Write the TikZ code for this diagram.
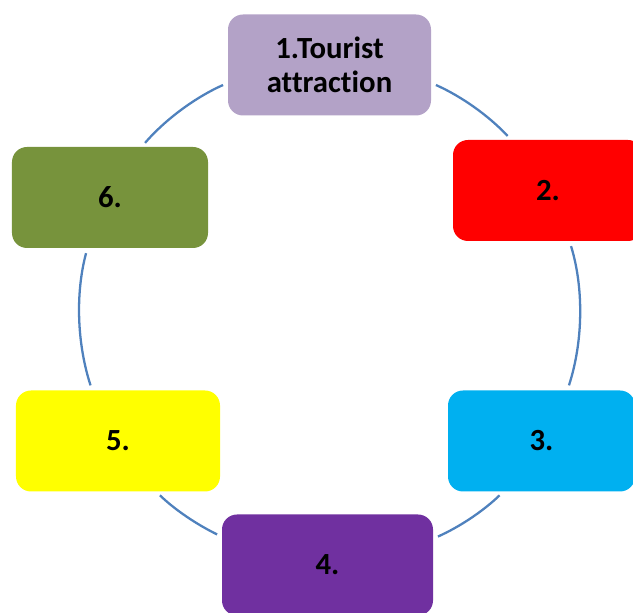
\documentclass[tikz,border=0pt]{standalone}
\usepackage{fontspec}
\setmainfont{Carlito}[Ligatures={NoCommon}]

\definecolor{lavender}{HTML}{B3A2C7}
\definecolor{skyblue}{HTML}{00B0F0}
\definecolor{grape}{HTML}{7030A0}
\definecolor{olive}{HTML}{77933C}
\definecolor{lemon}{HTML}{FFFF00}
\definecolor{ringblue}{HTML}{4F81BD}

\begin{document}
\begin{tikzpicture}[
    stage/.style={rounded corners=.3cm, minimum height=2.02cm, inner sep=0pt, align=center,
        font=\bfseries\fontsize{17.5}{19.4}\selectfont},
    ring/.style={draw=ringblue, line width=1.3pt, shorten <=.1cm, shorten >=.1cm, looseness=.86}]
    \useasboundingbox (0,0) rectangle (12.66,12.26);

    \node[stage, fill=lavender, minimum width=4.06cm] (t1) at (6.59,10.96) {1.Tourist\\attraction};
    \node[stage, fill=red, minimum width=3.8cm] (t2) at (10.96,8.45) {2.};
    \node[stage, fill=skyblue, minimum width=3.74cm] (t3) at (10.83,3.44) {3.};
    \node[stage, fill=grape, minimum width=4.22cm] (t4) at (6.55,0.96) {4.};
    \node[stage, fill=lemon, minimum width=4.08cm] (t5) at (2.36,3.44) {5.};
    \node[stage, fill=olive, minimum width=3.92cm] (t6) at (2.2,8.31) {6.};

    \draw[ring] (t1.-10) to[out=-24, in=133] (t2.126);
    \draw[ring] (t2.-67) to[out=-73, in=72] (t3.63);
    \draw[ring] (t3.-127) to[out=-136, in=24] (t4.14);
    \draw[ring] (t4.165) to[out=154, in=-44] (t5.-53);
    \draw[ring] (t5.117) to[out=108, in=255] (t6.-114);
    \draw[ring] (t6.58) to[out=49, in=204] (t1.190);
\end{tikzpicture}
\end{document}
